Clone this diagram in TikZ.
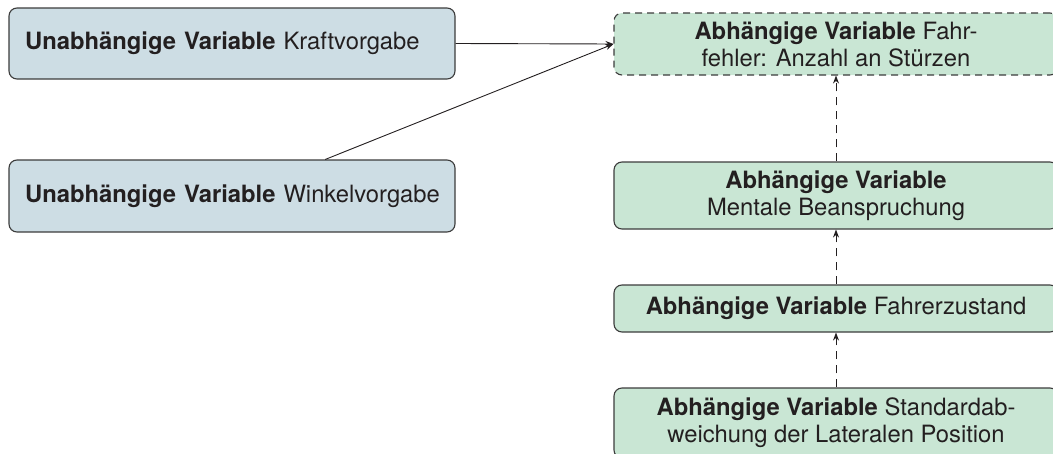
\documentclass[tikz,border=0pt]{standalone}
\usepackage{fontspec}
\setmainfont{TeX Gyre Heros}
\usetikzlibrary{arrows.meta,calc}
\definecolor{indepfill}{HTML}{CDDDE4}
\definecolor{depfill}{HTML}{C9E6D4}
\definecolor{edgegray}{HTML}{3C3C3C}
\definecolor{inkgray}{HTML}{231F20}
\tikzset{
  varbox/.style={draw=edgegray, line width=1.1pt, rounded corners=8pt,
    inner sep=0pt, align=center, text=inkgray,
    font=\fontsize{23.8}{27}\selectfont},
  indep/.style={varbox, fill=indepfill, text width=414pt, align=left,
    inner xsep=16pt, minimum width=446pt},
  dep/.style={varbox, fill=depfill, minimum width=444pt},
  link/.style={draw=inkgray, line width=0.9pt, -{Stealth[length=8pt,width=6pt]}},
  dashlink/.style={link, dash pattern=on 8pt off 6pt},
}
\begin{document}
\begin{tikzpicture}[x=1pt,y=-1pt]
  \useasboundingbox (0,0) rectangle (1053,453);
  \clip (0,0) rectangle (1053,453);

  % independent variables
  \node[indep, minimum height=71pt] (kraft) at (232,43.5)
    {\mbox{\textbf{Unabhängige Variable} Kraftvorgabe}};
  \node[indep, minimum height=72pt] (winkel) at (232,196)
    {\mbox{\textbf{Unabhängige Variable} Winkelvorgabe}};

  % dependent variables
  \node[dep, dashed, dash pattern=on 7pt off 5pt, minimum height=62pt] (fehler) at (836,44)
    {\textbf{Abhängige Variable} Fahr-\\fehler: Anzahl an Stürzen};
  \node[dep, minimum height=67pt] (mental) at (836,195.5)
    {\textbf{Abhängige Variable}\\Mentale Beanspruchung};
  \node[dep, minimum height=47pt] (zustand) at (836,308.5)
    {\textbf{Abhängige Variable} Fahrerzustand};
  \node[dep, minimum height=70pt] (sdlp) at (836,423)
    {\textbf{Abhängige Variable} Standardab-\\weichung der Lateralen Position};

  % connectors
  \coordinate (wstart) at ($(winkel.north west)!0.7085!(winkel.north east)$);
  \draw[link] (kraft.east) -- (fehler.west);
  \draw[link] (wstart) -- (fehler.west);
  \draw[dashlink] (mental.north) -- (fehler.south);
  \draw[dashlink] (zustand.north) -- (mental.south);
  \draw[dashlink] (sdlp.north) -- (zustand.south);
\end{tikzpicture}
\end{document}
